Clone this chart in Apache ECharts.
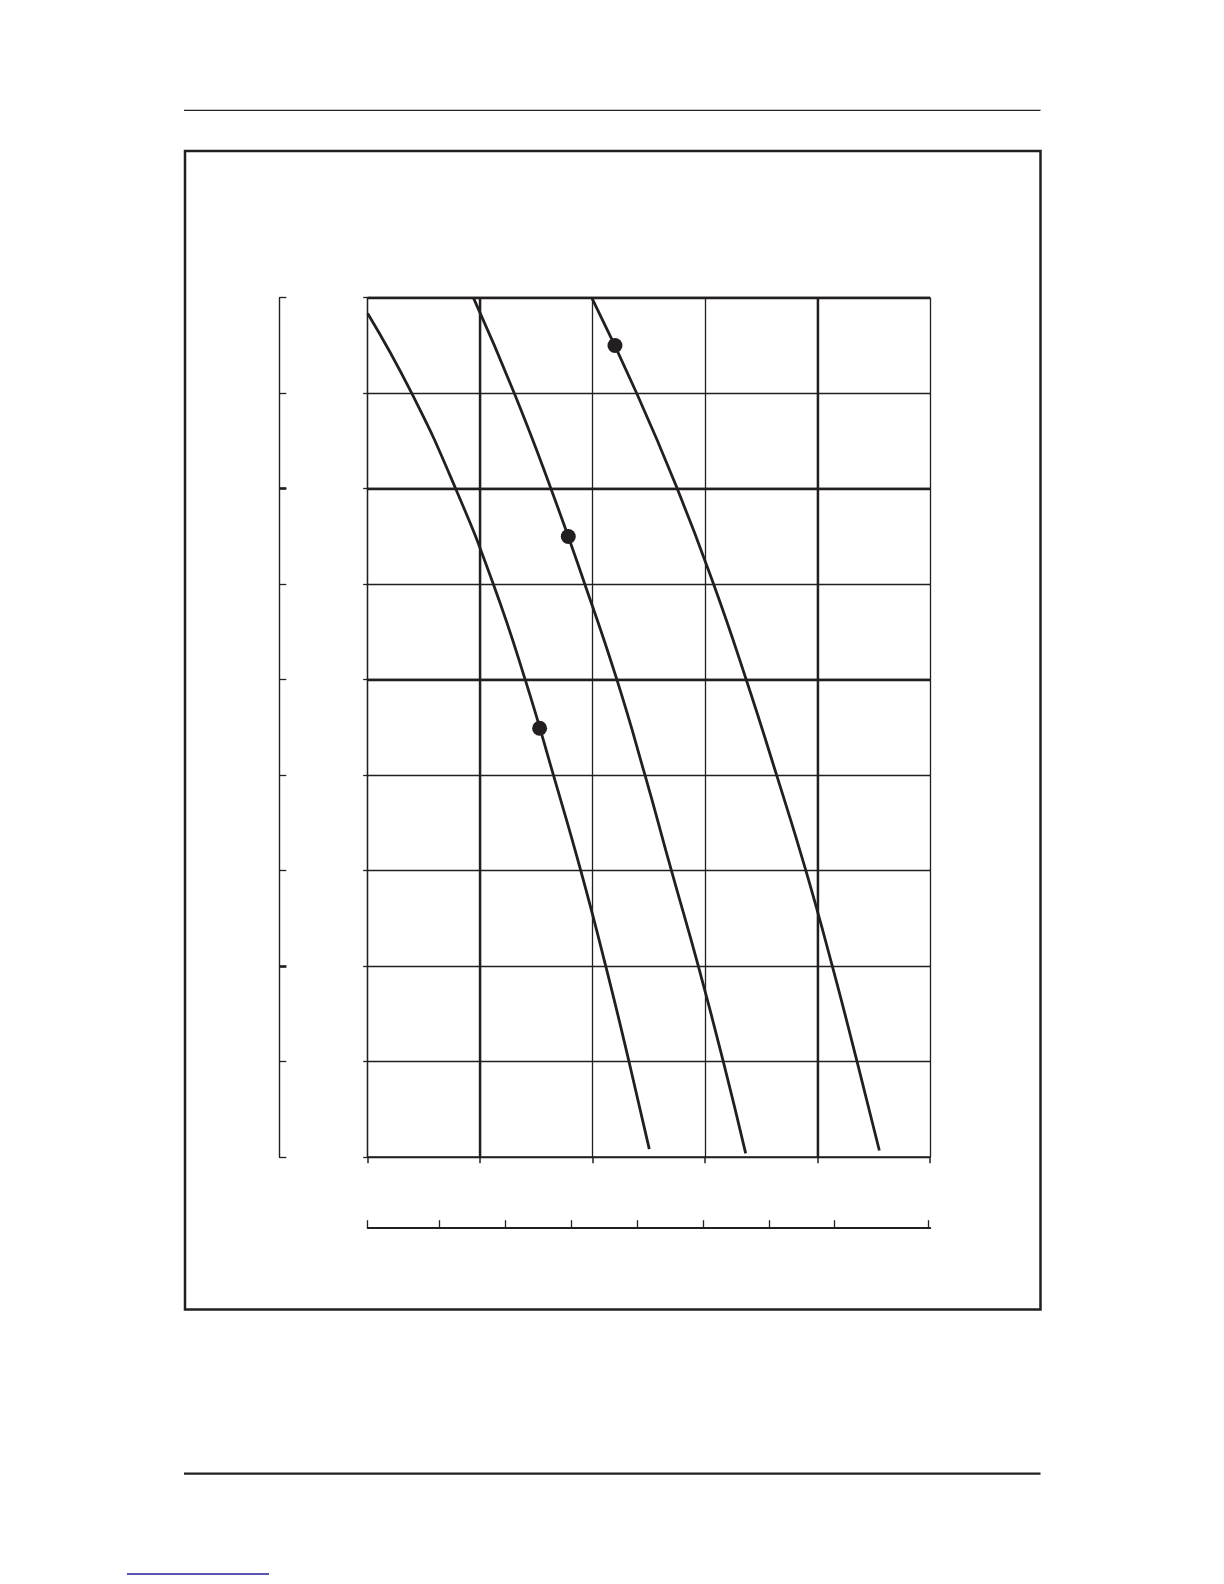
<!DOCTYPE html>
<html>
<head>
<meta charset="utf-8">
<style>
html,body{margin:0;padding:0;background:#fff;}
#chart{width:1224px;height:1584px;}
</style>
<script src="https://cdn.jsdelivr.net/npm/echarts@6/dist/echarts.min.js"></script>
</head>
<body>
<div id="chart"></div>
<script>
// Curve data (x: 0..50, y: 0..90 in grid units)
const curve1 = [[0,88.35],[3.91,80],[7.82,70],[11.17,60],[14.0,50],[16.51,40],[18.94,30],[21.16,20],[23.23,10],[25.03,0.84]];
const curve2 = [[9.39,90],[13.03,80],[16.29,70],[19.3,60],[22.15,50],[24.65,40],[27.0,30],[29.39,20],[31.61,10],[33.6,0.4]];
const curve3 = [[19.91,90],[23.91,80],[27.52,70],[30.75,60],[33.65,50],[36.35,40],[38.95,30],[41.3,20],[43.5,10],[45.48,0.7]];
const markers = [[15.28,44.92],[17.83,65],[21.98,85]];
// axes
const xRange = [0,50], xStep = 10;
const yRange = [0,90], yStep = 10;
const thickX = [10,40];
const thickY = [90,70,50];
const leftThickTicks = [20,70];
const secondaryTicks = [0,6.4,12.25,18.1,23.95,29.8,35.65,41.5,49.8];

const INK = '#231f20';
const chart = echarts.init(document.getElementById('chart'), null, {renderer:'canvas'});

const thinSplit = {show:true, lineStyle:{color:INK, width:1.3}};
const lineSeries = (data) => ({type:'line', data, smooth:0.5, symbol:'none', clip:true, lineStyle:{color:INK, width:2.8}});
const option = {
  backgroundColor:'#fff',
  animation:false,
  grid:{left:367.7, top:297.7, width:562.5, height:859.5, containLabel:false},
  xAxis:[
    {type:'value', min:xRange[0], max:xRange[1], interval:xStep, position:'bottom',
     axisLine:{show:true, onZero:false, lineStyle:{color:INK, width:1.5}},
     axisTick:{show:true, length:6, lineStyle:{color:INK, width:1.5}},
     axisLabel:{show:false}, splitLine:thinSplit},
    {type:'value', min:xRange[0], max:xRange[1], position:'bottom', offset:71,
     axisLine:{show:true, onZero:false, lineStyle:{color:INK, width:2}},
     axisTick:{show:true, inside:true, length:8, customValues:secondaryTicks, lineStyle:{color:INK, width:1.3}},
     axisLabel:{show:false}, splitLine:{show:false}}
  ],
  yAxis:[
    {type:'value', min:yRange[0], max:yRange[1], interval:yStep, position:'left',
     axisLine:{show:true, onZero:false, lineStyle:{color:INK, width:1.3}},
     axisTick:{show:true, length:4.5, lineStyle:{color:INK, width:1.3}},
     axisLabel:{show:false}, splitLine:thinSplit},
    {type:'value', min:yRange[0], max:yRange[1], interval:yStep, position:'left', offset:88.4,
     axisLine:{show:true, onZero:false, lineStyle:{color:INK, width:1.4}},
     axisTick:{show:true, inside:true, length:7, lineStyle:{color:INK, width:1.3}},
     axisLabel:{show:false}, splitLine:{show:false}},
    {type:'value', min:yRange[0], max:yRange[1], position:'left', offset:88.4,
     axisLine:{show:false, onZero:false},
     axisTick:{show:true, inside:true, length:7, customValues:leftThickTicks, lineStyle:{color:INK, width:2.6}},
     axisLabel:{show:false}, splitLine:{show:false}}
  ],
  series:[
    Object.assign(lineSeries(curve1), {
     markLine:{silent:true, symbol:'none', label:{show:false},
       lineStyle:{color:INK, width:2.4, type:'solid'},
       data: thickX.map(v=>({xAxis:v})).concat(thickY.map(v=>({yAxis:v})))}}),
    lineSeries(curve2),
    lineSeries(curve3),
    {type:'scatter', data:markers, symbol:'circle', symbolSize:15, itemStyle:{color:INK, opacity:1}, z:5}
  ],
  graphic:[
    {type:'line', shape:{x1:184, y1:110.3, x2:1040.5, y2:110.3}, style:{stroke:INK, lineWidth:1.3}},
    {type:'rect', shape:{x:185, y:151, width:1040.5-185, height:1309.5-151}, style:{fill:'none', stroke:INK, lineWidth:2.5}},
    {type:'line', shape:{x1:184, y1:1473.7, x2:1040.5, y2:1473.7}, style:{stroke:INK, lineWidth:2.2}},
    {type:'line', shape:{x1:127, y1:1574, x2:269, y2:1574}, style:{stroke:'#1f1f9a', lineWidth:1.4}}
  ]
};
chart.setOption(option);
</script>
</body>
</html>
